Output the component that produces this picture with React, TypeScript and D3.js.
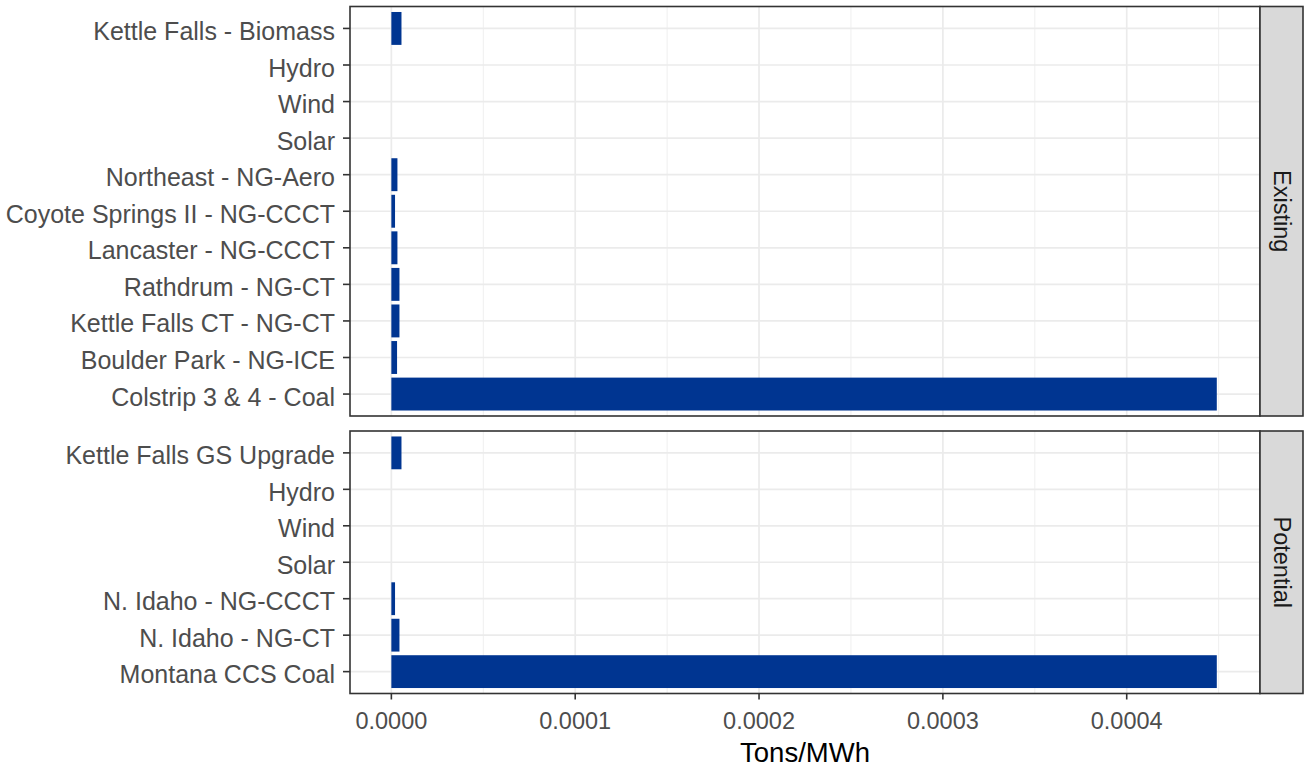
import React from "react";
import * as d3 from "d3";

const existingCategories = [
  "Kettle Falls - Biomass",
  "Hydro",
  "Wind",
  "Solar",
  "Northeast - NG-Aero",
  "Coyote Springs II - NG-CCCT",
  "Lancaster - NG-CCCT",
  "Rathdrum - NG-CT",
  "Kettle Falls CT - NG-CT",
  "Boulder Park - NG-ICE",
  "Colstrip 3 & 4 - Coal",
];
const existingValues = [
  0.0000055, 0, 0, 0, 0.0000033, 0.000002, 0.0000033, 0.0000044, 0.0000044, 0.0000031, 0.000449,
];

const potentialCategories = [
  "Kettle Falls GS Upgrade",
  "Hydro",
  "Wind",
  "Solar",
  "N. Idaho - NG-CCCT",
  "N. Idaho - NG-CT",
  "Montana CCS Coal",
];
const potentialValues = [0.0000055, 0, 0, 0, 0.000002, 0.0000044, 0.000449];

const xTicks = [0, 0.0001, 0.0002, 0.0003, 0.0004];
const xMinor = [0.00005, 0.00015, 0.00025, 0.00035, 0.00045];
const facetLabels = ["Existing", "Potential"];
const xTitle = "Tons/MWh";

const W = 1304;
const H = 767;
const panelLeft = 350;
const panelRight = 1260;
const stripRight = 1303;
const barColor = "#003591";
const fontFamily = "'Liberation Sans', Arial, sans-serif";
const yLabelSize = 25;
const xLabelSize = 23.5;

const xMax = 0.00045;
const x = d3
  .scaleLinear()
  .domain([-0.05 * xMax, 1.05 * xMax])
  .range([panelLeft, panelRight]);

type PanelProps = {
  cats: string[];
  vals: number[];
  top: number;
  bottom: number;
  label: string;
};

function Panel({ cats, vals, top, bottom, label }: PanelProps) {
  const keys = cats.map((c, i) => i + "|" + c);
  const y = d3
    .scaleBand<string>()
    .domain(keys)
    .range([top, bottom])
    .paddingInner(0.1)
    .paddingOuter(0.15);
  const center = (k: string) => (y(k) as number) + y.bandwidth() / 2;
  return (
    <g>
      <rect x={panelLeft} y={top} width={panelRight - panelLeft} height={bottom - top} fill="#FFFFFF" />
      {xMinor.map((v) => (
        <line key={"mn" + v} x1={x(v)} x2={x(v)} y1={top} y2={bottom} stroke="#EFEFEF" strokeWidth={1} />
      ))}
      {keys.map((k) => (
        <line key={"hg" + k} x1={panelLeft} x2={panelRight} y1={center(k)} y2={center(k)} stroke="#EBEBEB" strokeWidth={1.7} />
      ))}
      {xTicks.map((v) => (
        <line key={"mj" + v} x1={x(v)} x2={x(v)} y1={top} y2={bottom} stroke="#EBEBEB" strokeWidth={1.7} />
      ))}
      {keys.map((k, i) =>
        vals[i] > 0 ? (
          <rect
            key={"b" + k}
            x={x(0)}
            y={y(k) as number}
            width={x(vals[i]) - x(0)}
            height={y.bandwidth()}
            fill={barColor}
          />
        ) : null
      )}
      <rect
        x={panelLeft}
        y={top}
        width={panelRight - panelLeft}
        height={bottom - top}
        fill="none"
        stroke="#333333"
        strokeWidth={1.6}
      />
      {keys.map((k, i) => (
        <g key={"t" + k}>
          <line x1={panelLeft - 7} x2={panelLeft} y1={center(k)} y2={center(k)} stroke="#333333" strokeWidth={1.6} />
          <text
            x={panelLeft - 15}
            y={center(k) + 11.5}
            textAnchor="end"
            fontSize={yLabelSize}
            fill="#4D4D4D"
            fontFamily={fontFamily}
          >
            {cats[i]}
          </text>
        </g>
      ))}
      <rect
        x={panelRight}
        y={top}
        width={stripRight - panelRight}
        height={bottom - top}
        fill="#D9D9D9"
        stroke="#333333"
        strokeWidth={1.6}
      />
      <text
        transform={`translate(${(panelRight + stripRight) / 2},${(top + bottom) / 2}) rotate(90)`}
        textAnchor="middle"
        dominantBaseline="central"
        fontSize={23.5}
        fill="#1A1A1A"
        fontFamily={fontFamily}
      >
        {label}
      </text>
    </g>
  );
}

export default function App() {
  const topA = 6.5;
  const botA = 416;
  const topB = 431;
  const botB = 693.5;
  return (
    <svg width={W} height={H} style={{ position: "absolute", left: 0, top: 0, background: "#FFFFFF" }}>
      <rect x={0} y={0} width={W} height={H} fill="#FFFFFF" />
      <Panel cats={existingCategories} vals={existingValues} top={topA} bottom={botA} label={facetLabels[0]} />
      <Panel cats={potentialCategories} vals={potentialValues} top={topB} bottom={botB} label={facetLabels[1]} />
      {xTicks.map((v) => (
        <g key={"xt" + v}>
          <line x1={x(v)} x2={x(v)} y1={botB} y2={botB + 6} stroke="#333333" strokeWidth={1.6} />
          <text
            x={x(v)}
            y={729}
            textAnchor="middle"
            fontSize={xLabelSize}
            fill="#4D4D4D"
            fontFamily={fontFamily}
          >
            {d3.format(".4f")(v)}
          </text>
        </g>
      ))}
      <text
        x={(panelLeft + panelRight) / 2}
        y={762}
        textAnchor="middle"
        fontSize={27.5}
        fill="#000000"
        fontFamily={fontFamily}
      >
        {xTitle}
      </text>
    </svg>
  );
}
